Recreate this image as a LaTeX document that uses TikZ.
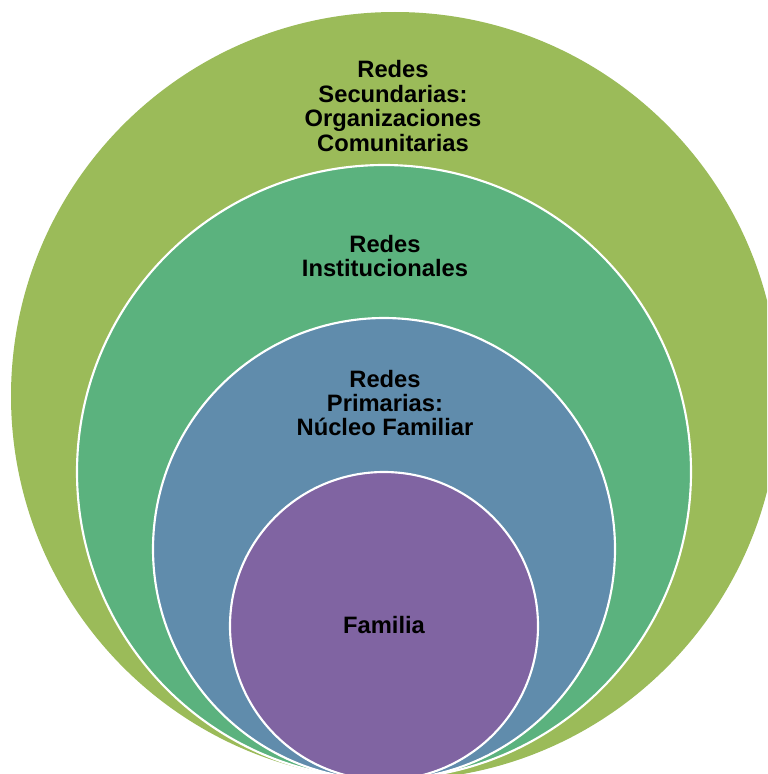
\documentclass[tikz,border=0pt]{standalone}
\usepackage{fontspec}
\setmainfont{Liberation Sans}
\usetikzlibrary{positioning}
\definecolor{olivo}{RGB}{155,187,89}
\definecolor{verde}{RGB}{91,178,126}
\definecolor{azul}{RGB}{96,140,172}
\definecolor{morado}{RGB}{128,100,162}

\begin{document}
\begin{tikzpicture}[
		x=0.75pt, y=-0.75pt,
		ring/.style={draw=white, line width=1.6pt, circle, inner sep=0pt, outer sep=0pt},
		txt/.style={align=center, font=\bfseries\fontsize{17.8}{18.3}\selectfont, text=black}
		]
		
		\useasboundingbox (0,0) rectangle (767,774);
		\clip (0,0) rectangle (767,774);
		
		% Circles, all touching at the bottom
		\node[ring, fill=olivo, draw=none, minimum size=768*0.75pt] (sec) at (395,396) {};
		\node[ring, fill=verde, minimum size=614*0.75pt] (inst) at (384,472) {};
		\node[ring, fill=azul, minimum size=462*0.75pt] (prim) at (384,549) {};
		\node[ring, fill=morado, minimum size=308*0.75pt] (fam) at (384,626) {};
		
		% Labels
		\node[txt] (tsec) at (393,106) {Redes\\Secundarias:\\Organizaciones\\Comunitarias};
		\node[txt] (tinst) at (385,256) {Redes\\Institucionales};
		\node[txt] (tprim) at (385,403) {Redes\\Primarias:\\Núcleo Familiar};
		\node[txt] (tfam) at (384,625) {Familia};
		
	\end{tikzpicture}
\end{document}
